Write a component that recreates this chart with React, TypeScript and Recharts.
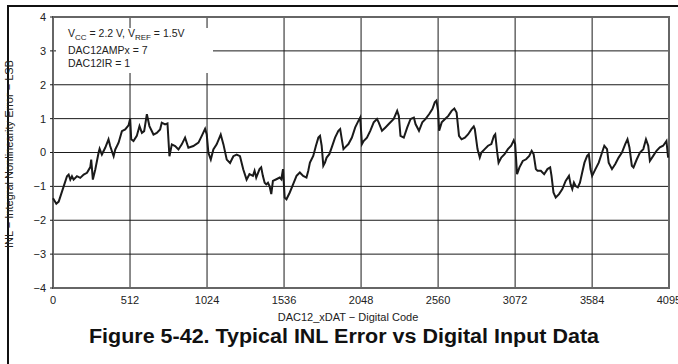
import { CartesianGrid, Line, LineChart, ReferenceArea, XAxis, YAxis } from "recharts"

const codeTicks = [0, 512, 1024, 1536, 2048, 2560, 3072, 3584, 4095]
const inlTicks = [-4, -3, -2, -1, 0, 1, 2, 3, 4]

// DAC input code (x) and INL error in LSB (y)
const codes = [
  0, 22, 38, 71, 93, 104, 115, 126, 137, 159, 181, 204, 226, 248, 254, 265, 281, 303, 310, 325,
  347, 369, 380, 403, 414, 436, 458, 480, 502, 513, 520, 535, 557, 575, 591, 606, 624, 641, 668, 690,
  712, 723, 745, 761, 774, 790, 812, 834, 856, 878, 900, 933, 967, 989, 1011, 1022, 1033, 1049, 1066, 1088,
  1115, 1133, 1155, 1177, 1199, 1221, 1243, 1265, 1287, 1306, 1329, 1340, 1351, 1373, 1384, 1395, 1407, 1418, 1429, 1440,
  1451, 1462, 1485, 1507, 1518, 1529, 1540, 1552, 1574, 1596, 1619, 1641, 1663, 1685, 1697, 1708, 1730, 1748, 1764, 1775,
  1786, 1797, 1808, 1819, 1837, 1853, 1875, 1897, 1909, 1920, 1931, 1942, 1964, 1987, 2009, 2031, 2042, 2054, 2065, 2087,
  2109, 2132, 2154, 2165, 2187, 2210, 2232, 2265, 2288, 2299, 2310, 2332, 2355, 2377, 2399, 2410, 2433, 2455, 2477, 2500,
  2522, 2538, 2549, 2560, 2567, 2584, 2606, 2628, 2650, 2668, 2683, 2699, 2716, 2738, 2760, 2782, 2797, 2804, 2822, 2837,
  2848, 2870, 2892, 2914, 2931, 2940, 2953, 2962, 2980, 3002, 3024, 3046, 3063, 3072, 3085, 3101, 3123, 3145, 3166, 3182,
  3195, 3210, 3221, 3243, 3265, 3287, 3305, 3314, 3327, 3342, 3364, 3386, 3408, 3430, 3441, 3452, 3463, 3474, 3489, 3503,
  3518, 3533, 3551, 3562, 3573, 3584, 3606, 3628, 3650, 3665, 3683, 3694, 3716, 3738, 3760, 3782, 3804, 3819, 3832, 3848,
  3859, 3881, 3902, 3924, 3942, 3957, 3968, 3990, 4012, 4034, 4056, 4078, 4089,
]
const inl = [
  -1.35, -1.51, -1.45, -1.0, -0.7, -0.65, -0.8, -0.7, -0.8, -0.7, -0.75, -0.65, -0.6, -0.43, -0.21, -0.8, -0.5, -0.01, 0.11, -0.06,
  0.14, 0.39, 0.19, -0.11, 0.09, 0.29, 0.63, 0.68, 0.8, 1.0, 0.39, 0.34, 0.49, 0.78, 0.58, 0.63, 1.13, 0.78, 0.53, 0.58,
  0.68, 0.88, 0.83, 0.86, -0.11, 0.24, 0.19, 0.09, 0.24, 0.44, 0.14, 0.19, 0.29, 0.49, 0.7, 0.53, -0.01, -0.21, 0.09, 0.24,
  0.53, 0.24, -0.21, -0.31, -0.11, -0.06, -0.11, -0.5, -0.8, -0.64, -0.69, -0.54, -0.74, -0.49, -0.44, -0.69, -0.89, -0.94, -0.89, -1.0,
  -1.23, -0.84, -0.79, -0.74, -0.79, -0.49, -1.33, -1.38, -1.18, -0.94, -0.69, -0.59, -0.69, -0.74, -0.54, -0.3, -0.1, 0.2, 0.44, 0.49,
  0.2, -0.39, -0.3, -0.15, -0.05, 0.15, 0.44, 0.64, 0.69, 0.39, 0.1, 0.15, 0.25, 0.44, 0.74, 0.94, 1.03, 0.25, 0.34, 0.44,
  0.64, 0.89, 0.99, 0.89, 0.64, 0.74, 0.84, 0.99, 1.23, 1.08, 0.49, 0.44, 0.74, 0.99, 1.03, 0.84, 0.64, 0.89, 0.99, 1.13,
  1.28, 1.48, 1.53, 1.23, 0.64, 0.89, 0.99, 1.08, 1.23, 1.3, 1.18, 0.49, 0.39, 0.44, 0.54, 0.69, 0.77, 0.69, 0.1, -0.15,
  0.0, 0.1, 0.2, 0.25, 0.49, 0.54, 0.0, -0.3, -0.15, -0.05, 0.1, 0.2, 0.36, 0.25, -0.64, -0.44, -0.25, -0.2, -0.1, 0.05,
  -0.05, -0.49, -0.54, -0.54, -0.64, -0.49, -0.44, -0.69, -1.18, -1.33, -1.23, -1.08, -0.84, -0.69, -0.94, -1.08, -0.89, -0.99, -1.03, -0.89,
  -0.59, -0.3, -0.1, -0.05, -0.49, -0.69, -0.49, -0.3, 0.0, 0.2, 0.1, -0.3, -0.49, -0.34, -0.15, 0.0, 0.25, 0.39, 0.15, -0.39,
  -0.44, -0.2, 0.0, 0.1, 0.39, 0.2, -0.25, -0.1, 0.05, 0.15, 0.2, 0.34, -0.15,
]

const data = codes.map((code, i) => ({ code, inl: inl[i] }))

const FONT = '"Liberation Sans", Arial, Helvetica, sans-serif'
const INK = "#1a1a1a"

const withMinus = (v: number) => String(v).replace("-", "\u2212")

export default function App() {
  return (
    <div
      style={{
        position: "fixed",
        left: 0,
        top: 0,
        width: 678,
        height: 364,
        background: "#fff",
        overflow: "hidden",
        fontFamily: FONT,
      }}
    >
      {/* page frame, only top and left edges show */}
      <div
        style={{
          position: "absolute",
          left: 7,
          top: 5,
          right: -4,
          bottom: -4,
          borderTop: "2px solid #111",
          borderLeft: "2px solid #111",
        }}
      />
      <LineChart width={678} height={364} data={data} margin={{ top: 17, right: 9, left: 0, bottom: 0 }}>
        <CartesianGrid stroke={INK} strokeWidth={1} />
        <XAxis
          dataKey="code"
          type="number"
          domain={[0, 4095]}
          ticks={codeTicks}
          interval={0}
          height={76}
          tickSize={0}
          tickMargin={8}
          axisLine={false}
          tickLine={false}
          tick={{ fill: "#222", fontSize: 11, fontFamily: FONT }}
        />
        <YAxis
          type="number"
          domain={[-4, 4]}
          ticks={inlTicks}
          interval={0}
          width={53}
          tickSize={3}
          tickMargin={4}
          axisLine={false}
          tickLine={{ stroke: INK }}
          tickFormatter={withMinus}
          tick={{ fill: "#222", fontSize: 11, fontFamily: FONT }}
        />
        <ReferenceArea x1={0} x2={4095} y1={-4} y2={4} fill="none" stroke="#666" strokeWidth={2} />
        <Line
          type="linear"
          dataKey="inl"
          stroke={INK}
          strokeWidth={2}
          dot={false}
          isAnimationActive={false}
        />
      </LineChart>
      <svg
        width={678}
        height={364}
        style={{ position: "absolute", left: 0, top: 0, pointerEvents: "none" }}
        fontFamily={FONT}
      >
        <rect x={56} y={28} width={157} height={45} fill="#fff" />
        <g fontSize={10.5} fill="#222">
          <text x={68} y={37}>
            V<tspan fontSize={8} dy={2.5}>CC</tspan>
            <tspan dy={-2.5}> = 2.2 V, V</tspan>
            <tspan fontSize={8} dy={2.5}>REF</tspan>
            <tspan dy={-2.5}> = 1.5V</tspan>
          </text>
          <text x={68} y={54}>DAC12AMPx = 7</text>
          <text x={68} y={67}>DAC12IR = 1</text>
        </g>
        <text transform="rotate(-90)" x={-154} y={13} textAnchor="middle" fontSize={11} fill="#222">
          INL − Integral Nonlinearity Error − LSB
        </text>
        <text x={348} y={321} textAnchor="middle" fontSize={11} fill="#222">
          DAC12_xDAT − Digital Code
        </text>
        <text
          x={344}
          y={343}
          textAnchor="middle"
          fontSize={19.5}
          fontWeight="bold"
          fill="#111"
          textLength={510}
          lengthAdjust="spacingAndGlyphs"
        >
          Figure 5-42. Typical INL Error vs Digital Input Data
        </text>
      </svg>
    </div>
  )
}
